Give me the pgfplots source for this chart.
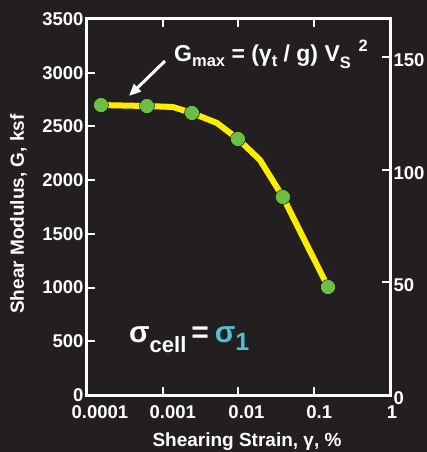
\documentclass[border=0pt]{standalone}
\usepackage{pgfplots}
\pgfplotsset{compat=1.18}
\usepackage{fontspec}
\setmainfont{Liberation Sans}
\usetikzlibrary{backgrounds,arrows.meta}
\definecolor{bg}{HTML}{231F20}
\definecolor{ylw}{HTML}{FFED00}
\definecolor{grn}{HTML}{6CBE45}
\definecolor{cyn}{HTML}{4FC1D4}
\newcommand{\tfont}{\bfseries\fontsize{18.5}{22}\selectfont}
\begin{document}
\begin{tikzpicture}
\begin{semilogxaxis}[
  name=main,
  scale only axis, width=303pt, height=376pt,
  xmin=1e-4, xmax=1, ymin=0, ymax=3500,
  axis line style={white, line width=3pt},
  every tick/.style={white, line width=2pt},
  major tick length=8pt,
  tick align=inside,
  xtick={1e-4,1e-3,1e-2,1e-1,1},
  xticklabels={\hspace*{26pt}0.0001,\hspace*{20pt}0.001,\hspace*{16pt}0.01,\hspace*{10pt}0.1,\hspace*{4pt}1},
  xminorticks=false,
  xtick pos=both,
  ytick={0,500,1000,1500,2000,2500,3000,3500},
  yticklabels={0,500,1000,1500,2000,2500,3000,3500},
  ytick pos=left,
  tick label style={white, font=\tfont},
  xticklabel style={yshift=-7pt},
  /pgf/number format/assume math mode=true,
  clip=false,
]
\addplot[ylw, line width=6pt, line join=round, line cap=round] coordinates {
  (1.53e-4,2699) (6.19e-4,2690) (1.36e-3,2681) (2.43e-3,2625) (5.2e-3,2532)
  (9.84e-3,2383) (1.92e-2,2188) (3.86e-2,1843) (0.152,1005)
};
\addplot[only marks, mark=*, mark size=7.5pt, mark options={fill=grn, draw=none}] coordinates {
  (1.53e-4,2699) (6.19e-4,2690) (2.43e-3,2625) (9.84e-3,2383) (3.86e-2,1843) (0.152,1005)
};
\end{semilogxaxis}
\begin{axis}[
  scale only axis, width=303pt, height=376pt,
  xmin=0, xmax=1, ymin=0, ymax=167.1,
  axis x line=none, axis y line*=right,
  axis line style={white, line width=3pt, -},
  every tick/.style={white, line width=2pt},
  major tick length=8pt,
  tick align=inside,
  ytick={0,50,100,150},
  yticklabels={0,50,100,150},
  tick label style={white, font=\tfont},
  yticklabel style={yshift=-3pt},
  /pgf/number format/assume math mode=true,
]
\addplot[draw=none] coordinates {(0,0)};
\end{axis}
% axis labels
\node[white, rotate=90, anchor=base, font=\bfseries\fontsize{19}{22}\selectfont] at (-63pt,181pt) {Shear Modulus, G, ksf};
\node[white, anchor=base, font=\bfseries\fontsize{19}{22}\selectfont] at (160pt,-51pt) {Shearing Strain, γ, \%};
% annotations
\draw[white, line width=3pt, -{Triangle[length=12pt,width=10pt]}] (78pt,334pt) -- (42pt,299pt);
\node[white, anchor=base west, inner sep=0pt, font=\bfseries\fontsize{23}{27}\selectfont] at (87pt,333pt)
  {G\raisebox{-5pt}{\fontsize{16.5}{18}\selectfont max} = (γ\raisebox{-5pt}{\fontsize{16.5}{18}\selectfont t} / g) V\raisebox{-7pt}{\fontsize{16.5}{18}\selectfont S}\,\,\raisebox{10pt}{\fontsize{16.5}{18}\selectfont 2}};
\node[white, anchor=base west, inner sep=0pt, font=\bfseries\fontsize{30}{32}\selectfont] at (42pt,52pt)
  {σ\raisebox{-9.5pt}{\fontsize{22}{26}\selectfont cell}\hspace{5pt}=\hspace{6pt}\textcolor{cyn}{σ\raisebox{-8pt}{\fontsize{25}{28}\selectfont 1}}};
\begin{pgfonlayer}{background}
\fill[bg] (-87pt,-57pt) rectangle (340pt,395pt);
\end{pgfonlayer}
\pgfresetboundingbox
\path[use as bounding box] (-87pt,-57pt) rectangle (340pt,395pt);
\end{tikzpicture}
\end{document}
